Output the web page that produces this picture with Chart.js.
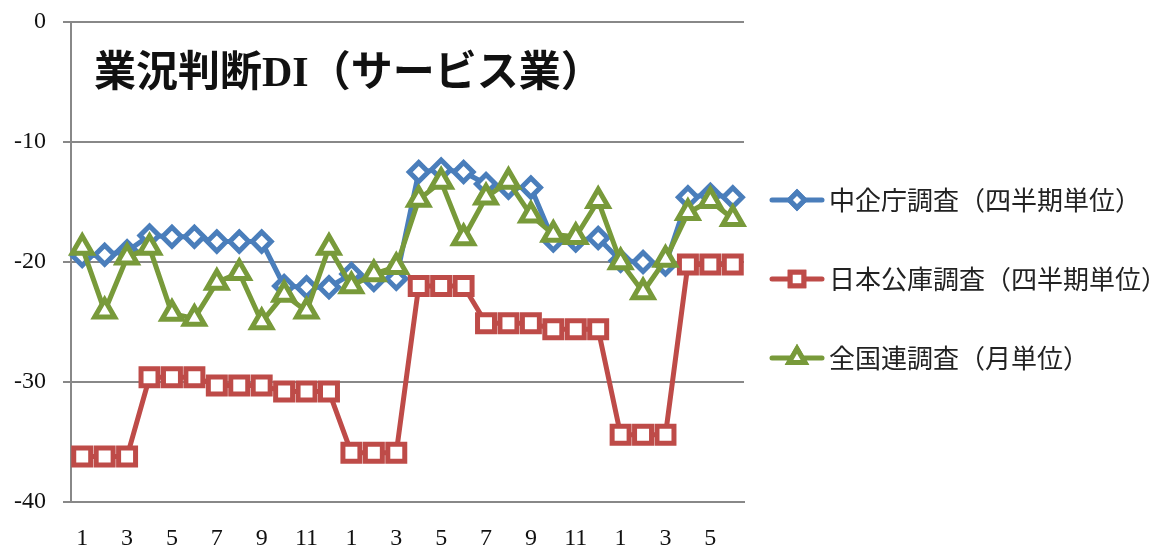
<!DOCTYPE html>
<html>
<head>
<meta charset="utf-8">
<script src="https://cdn.jsdelivr.net/npm/chart.js@4"></script>
<style>
  html, body { margin: 0; padding: 0; background: #fff; }
  #wrap { width: 1168px; height: 550px; }
</style>
</head>
<body>
<div id="wrap"><canvas id="chart" width="1168" height="550"></canvas></div>
<script>
const months = [1,2,3,4,5,6,7,8,9,10,11,12, 1,2,3,4,5,6,7,8,9,10,11,12, 1,2,3,4,5,6];

const chukiValues = [-19.5, -19.4, -19.1, -17.8, -17.9, -17.9, -18.3, -18.3, -18.3, -22.0, -22.1, -22.1,
  -21.0, -21.5, -21.4, -12.5, -12.3, -12.5, -13.5, -13.8, -13.8, -18.2, -18.2, -18.0, -19.9, -20.0, -20.2, -14.6, -14.4, -14.6];
const koukoValues = [-36.2, -36.2, -36.2, -29.6, -29.6, -29.6, -30.3, -30.3, -30.3, -30.8, -30.8, -30.8,
  -35.9, -35.9, -35.9, -22.0, -22.0, -22.0, -25.1, -25.1, -25.1, -25.6, -25.6, -25.6, -34.4, -34.4, -34.4, -20.2, -20.2, -20.2];
const zenkokurenValues = [-18.8, -24.1, -19.6, -18.8, -24.3, -24.7, -21.7, -20.9, -25.0, -22.7, -24.1, -18.8,
  -22.0, -21.0, -20.4, -14.8, -13.3, -18.0, -14.6, -13.3, -16.1, -17.7, -17.9, -14.9, -20.0, -22.5, -19.8, -15.9, -14.9, -16.4];

const seriesNames = ['中企庁調査（四半期単位）', '日本公庫調査（四半期単位）', '全国連調査（月単位）'];
const yTicks = [0, -10, -20, -30, -40];
const chartTitle = '業況判断DI（サービス業）';

const BLUE = '#4a7ebb', RED = '#be4b48', GREEN = '#789a3a';
const serif = '"Liberation Serif", "DejaVu Serif", serif';

// title drawn inside the plot area, top left
const titlePlugin = {
  id: 'insideTitle',
  afterDraw(chart) {
    const ctx = chart.ctx;
    ctx.save();
    ctx.fillStyle = '#111';
    ctx.font = 'bold 42px "Liberation Serif", "Noto Sans CJK JP", serif';
    ctx.textBaseline = 'alphabetic';
    ctx.fillText(chartTitle, 94, 86);
    ctx.restore();
  }
};

// Excel style legend: line sample with marker, stacked on the right
const legendPlugin = {
  id: 'sideLegend',
  afterDraw(chart) {
    const ctx = chart.ctx;
    const rows = [200, 279, 358];
    chart.data.datasets.forEach((ds, i) => {
      const y = rows[i];
      ctx.save();
      ctx.strokeStyle = ds.borderColor;
      ctx.lineWidth = 5;
      ctx.lineCap = 'round';
      ctx.beginPath();
      ctx.moveTo(772, y);
      ctx.lineTo(822, y);
      ctx.stroke();
      Chart.helpers.drawPoint(ctx, {
        pointStyle: ds.pointStyle, radius: ds.pointRadius * 0.8, borderWidth: 4.5
      }, 797, y);
      ctx.fillStyle = '#fff';
      ctx.fill();
      ctx.stroke();
      ctx.fillStyle = '#222';
      ctx.font = '26px "Noto Sans CJK JP", sans-serif';
      ctx.textBaseline = 'middle';
      ctx.fillText(seriesNames[i], 829, y);
      ctx.restore();
    });
  }
};

new Chart(document.getElementById('chart'), {
  type: 'line',
  data: {
    labels: months,
    datasets: [
      { label: seriesNames[0], data: chukiValues, borderColor: BLUE, backgroundColor: '#fff',
        borderWidth: 5, pointStyle: 'rectRot', pointRadius: 9.5, pointBorderWidth: 5,
        pointBackgroundColor: '#fff', borderJoinStyle: 'round', tension: 0, order: 2 },
      { label: seriesNames[1], data: koukoValues, borderColor: RED, backgroundColor: '#fff',
        borderWidth: 5, pointStyle: 'rect', pointRadius: 12, pointBorderWidth: 5,
        pointBackgroundColor: '#fff', borderJoinStyle: 'round', tension: 0, order: 1 },
      { label: seriesNames[2], data: zenkokurenValues, borderColor: GREEN, backgroundColor: '#fff',
        borderWidth: 5, pointStyle: 'triangle', pointRadius: 11.5, pointBorderWidth: 5,
        pointBackgroundColor: '#fff', borderJoinStyle: 'round', tension: 0, order: 0 }
    ]
  },
  options: {
    responsive: false,
    animation: false,
    layout: { padding: { top: 22, right: 424, bottom: 0, left: 0 } },
    plugins: { legend: { display: false }, tooltip: { enabled: false }, title: { display: false } },
    scales: {
      x: {
        offset: true,
        grid: { drawOnChartArea: false, drawTicks: false, offset: true },
        border: { display: true, color: '#888', width: 2 },
        ticks: {
          autoSkip: false, maxRotation: 0, minRotation: 0, padding: 22,
          color: '#111', font: { family: serif, size: 24 },
          callback: (v, i) => (i % 2 === 0 ? String(months[i]) : '')
        },
        afterFit: s => { s.height = 48; s.paddingLeft = 0; s.paddingRight = 0; }
      },
      y: {
        min: -40, max: 0,
        afterBuildTicks: s => { s.ticks = yTicks.map(v => ({ value: v })); },
        grid: { color: '#888', lineWidth: 2, tickLength: 8 },
        border: { display: true, color: '#888', width: 2 },
        ticks: { padding: 17, color: '#111', font: { family: serif, size: 24 } },
        afterFit: s => { s.width = 71; s.paddingTop = 0; s.paddingBottom = 0; }
      }
    }
  },
  plugins: [titlePlugin, legendPlugin]
});
</script>
</body>
</html>
